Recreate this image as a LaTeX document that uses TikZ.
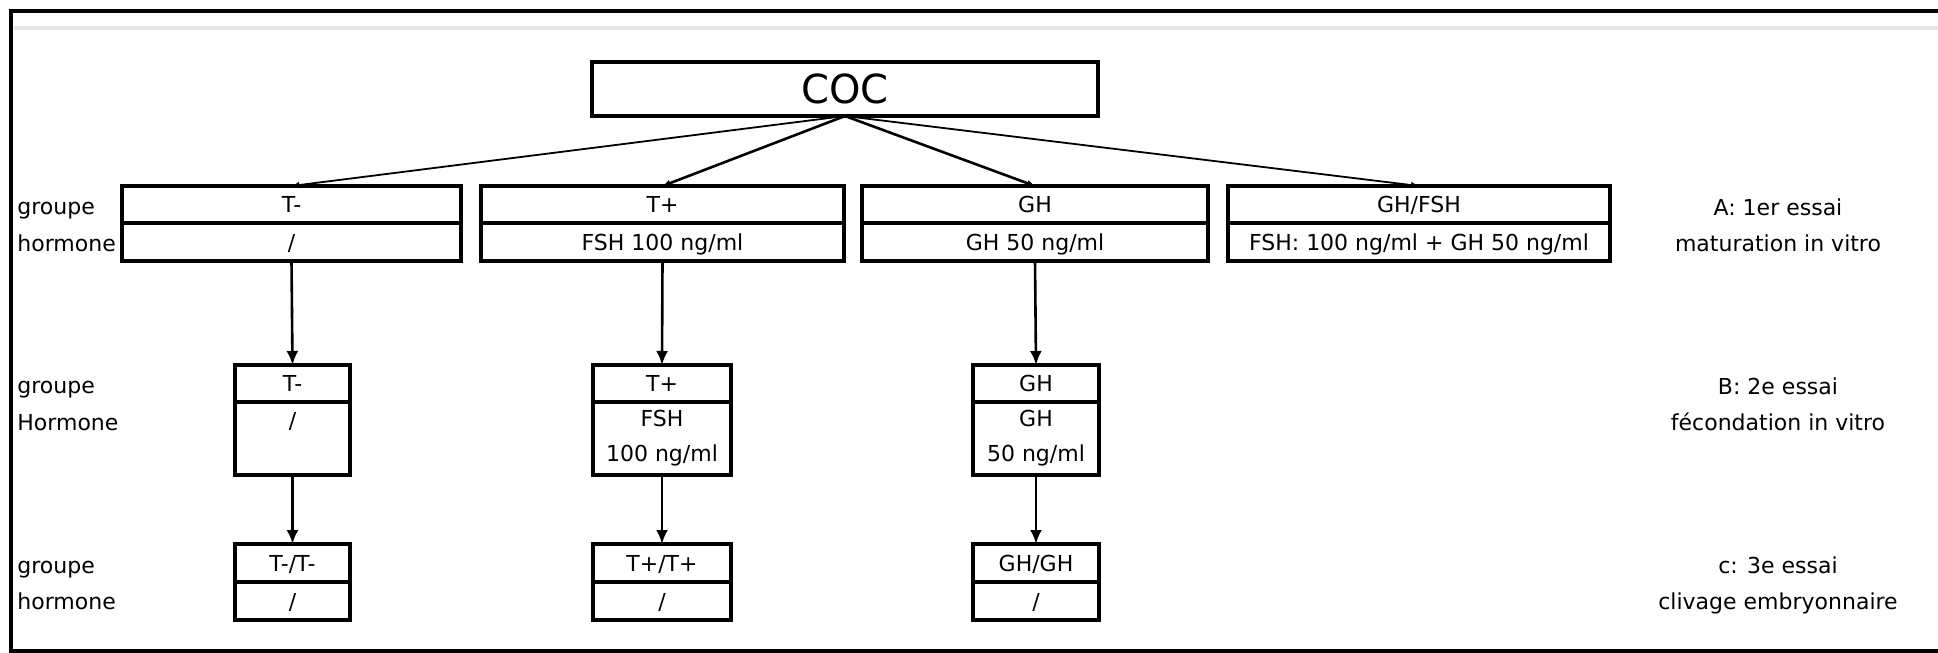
\documentclass[tikz,border=0pt]{standalone}
\usepackage{fontspec}
\setmainfont{DejaVu Sans}
\usetikzlibrary{positioning,arrows.meta}

\begin{document}
\begin{tikzpicture}[
  x=0.5pt, y=-0.5pt,
  cellbox/.style={draw, line width=1.7pt, inner sep=0pt, outer sep=0pt, align=center,
    font=\fontsize{11}{17.5}\selectfont},
  cell/.style={cellbox, text height=10pt, text depth=2pt},
  side/.style={inner sep=0pt, anchor=west, text height=8pt, text depth=0pt, font=\fontsize{11}{13}\selectfont},
  essai/.style={inner sep=0pt, align=center, font=\fontsize{11}{18}\selectfont},
  link/.style={line width=1.3pt, -{Latex[length=4pt,width=3.5pt]}},
  thinlink/.style={link, line width=0.9pt},
  down/.style={line width=1.3pt, -{Latex[length=7pt,width=6pt]}}
]
\useasboundingbox (0,0) rectangle (1938,653);

% frame
\draw[gray!20, line width=2pt] (14,28) -- (1938,28);
\draw[line width=2pt] (1938,11) -- (11,11) -- (11,651) -- (1938,651);

% COC
\node[cellbox, minimum width=253pt, minimum height=27pt, font=\fontsize{20}{24}\selectfont] (coc) at (845,89) {COC};

% A: 1er essai
\node[cell, minimum width=169.5pt, minimum height=18.5pt] (a1g) at (291.5,204.5) {T-};
\node[cell, minimum width=169.5pt, minimum height=19pt, below=0pt of a1g] (a1h) {/};
\node[cell, minimum width=181.5pt, minimum height=18.5pt] (a2g) at (662.5,204.5) {T+};
\node[cell, minimum width=181.5pt, minimum height=19pt, below=0pt of a2g] (a2h) {FSH 100 ng/ml};
\node[cell, minimum width=173pt, minimum height=18.5pt] (a3g) at (1035,204.5) {GH};
\node[cell, minimum width=173pt, minimum height=19pt, below=0pt of a3g] (a3h) {GH 50 ng/ml};
\node[cell, minimum width=191pt, minimum height=18.5pt] (a4g) at (1419,204.5) {GH/FSH};
\node[cell, minimum width=191pt, minimum height=19pt, below=0pt of a4g] (a4h) {FSH: 100 ng/ml + GH 50 ng/ml};

% B: 2e essai
\node[cell, minimum width=57.5pt, minimum height=18.5pt] (b1g) at (292.5,383.5) {T-};
\node[cellbox, minimum width=57.5pt, minimum height=36.5pt, below=0pt of b1g] (b1h) {/\\\phantom{/}};
\node[cell, minimum width=69pt, minimum height=18.5pt] (b2g) at (662,383.5) {T+};
\node[cellbox, minimum width=69pt, minimum height=36.5pt, below=0pt of b2g] (b2h) {FSH\\100 ng/ml};
\node[cell, minimum width=63pt, minimum height=18.5pt] (b3g) at (1036,383.5) {GH};
\node[cellbox, minimum width=63pt, minimum height=36.5pt, below=0pt of b3g] (b3h) {GH\\50 ng/ml};

% c: 3e essai
\node[cell, minimum width=57.5pt, minimum height=19pt] (c1g) at (292.5,563) {T-/T-};
\node[cell, minimum width=57.5pt, minimum height=19pt, below=0pt of c1g] (c1h) {/};
\node[cell, minimum width=69pt, minimum height=19pt] (c2g) at (662,563) {T+/T+};
\node[cell, minimum width=69pt, minimum height=19pt, below=0pt of c2g] (c2h) {/};
\node[cell, minimum width=63pt, minimum height=19pt] (c3g) at (1036,563) {GH/GH};
\node[cell, minimum width=63pt, minimum height=19pt, below=0pt of c3g] (c3h) {/};

% left labels
\node[side] (la1) at (17,206) {groupe};
\node[side] (la2) at (17,243) {hormone};
\node[side] (lb1) at (17,385) {groupe};
\node[side] (lb2) at (17,422) {Hormone};
\node[side] (lc1) at (17,565) {groupe};
\node[side] (lc2) at (17,601) {hormone};

% right labels
\node[essai] (ea) at (1778,225) {A: 1er essai\\maturation in vitro};
\node[essai] (eb) at (1778,404) {B: 2e essai\\fécondation in vitro};
\node[essai] (ec) at (1778,585) {c: 3e essai\\clivage embryonnaire};

% connectors
\draw[thinlink] (coc.south) -- (a1g.north);
\draw[link] (coc.south) -- (a2g.north);
\draw[link] (coc.south) -- (a3g.north);
\draw[thinlink] (coc.south) -- (a4g.north);
\foreach \i in {1,2,3} {
  \draw[down] (a\i h.south) -- (b\i g.north);
  \draw[down] (b\i h.south) -- (c\i g.north);
}
\end{tikzpicture}
\end{document}
